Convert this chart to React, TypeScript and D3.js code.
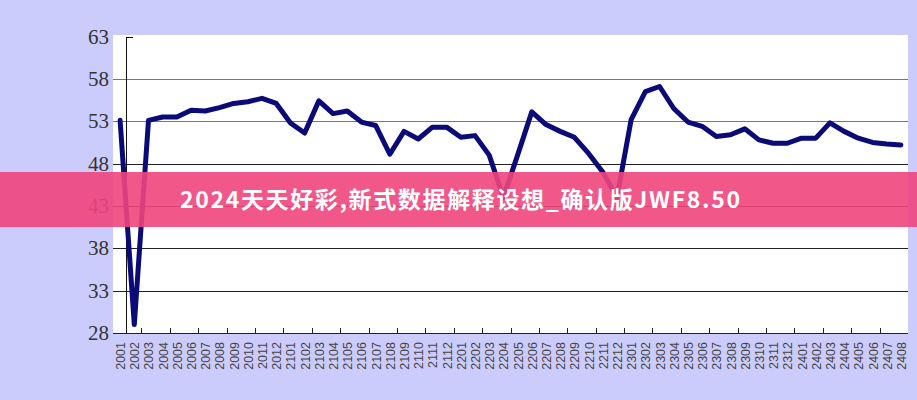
import React from "react";
import * as d3 from "d3";

// Monthly periods (YYMM)
const periods: string[] = [
  "2001","2002","2003","2004","2005","2006","2007","2008","2009","2010","2011","2012",
  "2101","2102","2103","2104","2105","2106","2107","2108","2109","2110","2111","2112",
  "2201","2202","2203","2204","2205","2206","2207","2208","2209","2210","2211","2212",
  "2301","2302","2303","2304","2305","2306","2307","2308","2309","2310","2311","2312",
  "2401","2402","2403","2404","2405","2406","2407","2408",
];

const values: number[] = [
  53.1, 29.0, 53.1, 53.5, 53.5, 54.3, 54.2, 54.6, 55.1, 55.3, 55.7, 55.1,
  52.8, 51.6, 55.4, 53.9, 54.2, 52.9, 52.5, 49.1, 51.8, 50.9, 52.3, 52.3,
  51.1, 51.3, 49.0, 44.0, 49.0, 54.1, 52.6, 51.8, 51.1, 49.2, 47.0, 44.0,
  53.2, 56.5, 57.1, 54.5, 52.9, 52.4, 51.2, 51.4, 52.1, 50.8, 50.4, 50.4,
  51.0, 51.0, 52.8, 51.8, 51.0, 50.5, 50.3, 50.2,
];

const yTicks: number[] = [28, 33, 38, 43, 48, 53, 58, 63];

const bannerText = "2024天天好彩,新式数据解释设想_确认版JWF8.50";

const W = 917;
const H = 400;
const plotLeft = 113;
const plotRight = 908;
const plotTop = 35;
const plotBottom = 333;
const axisX = 126;

export default function App() {
  const x = d3
    .scaleBand<string>()
    .domain(periods)
    .range([plotLeft, plotRight])
    .paddingInner(0)
    .paddingOuter(0);
  const y = d3.scaleLinear().domain([28, 63]).range([plotBottom, 36.5]);
  const cx = (p: string) => (x(p) ?? 0) + x.bandwidth() / 2;

  const line = d3
    .line<number>()
    .x((_, i) => cx(periods[i]))
    .y((v) => y(v));

  // tick marks on every second category boundary
  const boundaryTicks = periods
    .map((p, i) => ({ i, pos: x(p) ?? 0 }))
    .filter((d) => d.i > 0 && d.i % 2 === 0);

  return (
    <svg
      width={W}
      height={H}
      style={{ position: "absolute", left: 0, top: 0, display: "block" }}
    >
      <rect x={0} y={0} width={W} height={H} fill="#ccccfc" />
      <rect
        x={plotLeft}
        y={plotTop}
        width={plotRight - plotLeft}
        height={plotBottom - plotTop}
        fill="#ffffff"
      />
      {/* horizontal grid lines */}
      {yTicks
        .filter((t) => t < 63)
        .map((t) => (
          <line
            key={"g" + t}
            x1={plotLeft}
            x2={plotRight}
            y1={Math.round(y(t)) + 0.5}
            y2={Math.round(y(t)) + 0.5}
            stroke={t >= 53 ? "#777777" : "#222222"}
            strokeWidth={1}
          />
        ))}
      {/* vertical axis */}
      <line
        x1={axisX + 0.5}
        x2={axisX + 0.5}
        y1={Math.round(y(63))}
        y2={plotBottom}
        stroke="#111111"
        strokeWidth={1}
      />
      <line
        x1={axisX}
        x2={axisX + 7}
        y1={Math.round(y(63)) + 0.5}
        y2={Math.round(y(63)) + 0.5}
        stroke="#111111"
        strokeWidth={1}
      />
      {/* category ticks */}
      {boundaryTicks.map((d) => (
        <line
          key={"t" + d.i}
          x1={Math.round(d.pos) + 0.5}
          x2={Math.round(d.pos) + 0.5}
          y1={plotBottom - 5}
          y2={plotBottom}
          stroke="#222222"
          strokeWidth={1}
        />
      ))}
      {/* y labels */}
      {yTicks.map((t) => (
        <text
          key={"yl" + t}
          x={109}
          y={y(t) + 7}
          textAnchor="end"
          fontFamily="'Liberation Serif', 'DejaVu Serif', serif"
          fontSize={21}
          fill="#333333"
        >
          {t}
        </text>
      ))}
      {/* x labels */}
      {periods.map((p) => (
        <text
          key={"xl" + p}
          transform={`translate(${cx(p) + 5},${342}) rotate(-90)`}
          textAnchor="end"
          fontFamily="'Liberation Sans', Arial, sans-serif"
          fontSize={12.5}
          fill="#444444"
        >
          {p}
        </text>
      ))}
      {/* data line */}
      <path
        d={line(values) ?? ""}
        fill="none"
        stroke="#0a0a78"
        strokeWidth={5}
        strokeLinejoin="round"
        strokeLinecap="round"
      />
      {/* title band */}
      <rect x={0} y={172} width={W} height={55} fill="#f0457c" opacity={0.9} />
      <text
        x={460}
        y={208}
        textAnchor="middle"
        fontFamily="'Noto Sans CJK SC', 'Noto Sans', sans-serif"
        fontWeight={700}
        fontSize={23}
        textLength={560}
        lengthAdjust="spacing"
        fill="#ffffff"
      >
        {bannerText}
      </text>
    </svg>
  );
}
